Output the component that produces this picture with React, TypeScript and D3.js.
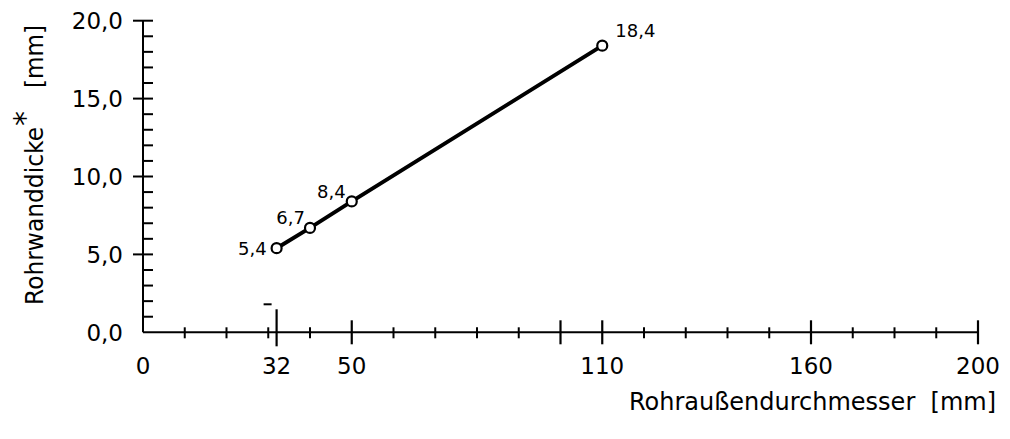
import React from "react";
import * as d3 from "d3";

const diameters = [32, 40, 50, 110];
const thickness = [5.4, 6.7, 8.4, 18.4];
const pointLabels = ["5,4", "6,7", "8,4", "18,4"];
const xTickLabels = [0, 32, 50, 110, 160, 200];
const xMinorTicks = [10, 20, 30, 40, 60, 70, 80, 90, 120, 130, 140, 150, 170, 180, 190];
const xMajorTicks = [50, 100, 110, 160, 200];
const xSpecialTick = [32];
const yMajorTicks = [0, 5, 10, 15, 20];
const yMinorTicks = [1, 2, 3, 4, 6, 7, 8, 9, 11, 12, 13, 14, 16, 17, 18, 19];

const FONT = "'DejaVu Sans', sans-serif";

export default function App() {
  const W = 1010, H = 439;
  const x = d3.scaleLinear().domain([0, 200]).range([143, 978]);
  const y = d3.scaleLinear().domain([0, 20]).range([332.3, 20.7]);
  const line = d3.line<number>().x((d, i) => x(diameters[i])).y((d) => y(d));
  const x0 = x(0), y0 = y(0);

  const labelPos = [
    { dx: -10, dy: 7, anchor: "end" },
    { dx: -5, dy: -4, anchor: "end" },
    { dx: -6, dy: -3, anchor: "end" },
    { dx: 13, dy: -9, anchor: "start" },
  ];

  return (
    <svg width={W} height={H} style={{ position: "absolute", left: 0, top: 0, background: "#fff" }} fontFamily={FONT}>
      {/* Y axis */}
      <line x1={x0} x2={x0} y1={y0} y2={y(20)} stroke="#000" strokeWidth={2} />
      {yMinorTicks.map((t) => (
        <line key={"ym" + t} x1={x0} x2={x0 + 10} y1={y(t)} y2={y(t)} stroke="#000" strokeWidth={2} />
      ))}
      {yMajorTicks.filter((t) => t > 0).map((t) => (
        <line key={"yM" + t} x1={x0 - 10} x2={x0 + 10} y1={y(t)} y2={y(t)} stroke="#000" strokeWidth={2} />
      ))}
      {yMajorTicks.map((t) => (
        <text key={"yl" + t} x={123} y={y(t)} dy="0.36em" textAnchor="end" fontSize={23} fill="#000">
          {d3.format(".1f")(t).replace(".", ",")}
        </text>
      ))}
      {/* X axis */}
      <line x1={x0} x2={x(200)} y1={y0} y2={y0} stroke="#000" strokeWidth={2} />
      {xMinorTicks.map((t) => (
        <line key={"xm" + t} x1={x(t)} x2={x(t)} y1={y0 - 5} y2={y0 + 6} stroke="#000" strokeWidth={2} />
      ))}
      {xMajorTicks.map((t) => (
        <line key={"xM" + t} x1={x(t)} x2={x(t)} y1={y0 - 12} y2={y0 + 12} stroke="#000" strokeWidth={2.2} />
      ))}
      {xSpecialTick.map((t) => (
        <g key={"xs" + t}>
          <line x1={x(t)} x2={x(t)} y1={y0 - 23} y2={y0 + 14} stroke="#000" strokeWidth={2.2} />
          <line x1={x(t) - 13} x2={x(t) - 5} y1={y0 - 28} y2={y0 - 28} stroke="#000" strokeWidth={2} />
        </g>
      ))}
      {xTickLabels.map((t) => (
        <text key={"xl" + t} x={x(t)} y={374} textAnchor="middle" fontSize={23} fill="#000">
          {t}
        </text>
      ))}
      {/* data line */}
      <path d={line(thickness) || ""} fill="none" stroke="#000" strokeWidth={4} strokeLinejoin="round" />
      {thickness.map((v, i) => (
        <circle key={"c" + i} cx={x(diameters[i])} cy={y(v)} r={5} fill="#fff" stroke="#000" strokeWidth={2.2} />
      ))}
      {thickness.map((v, i) => (
        <text key={"pl" + i} x={x(diameters[i]) + labelPos[i].dx} y={y(v) + labelPos[i].dy}
          textAnchor={labelPos[i].anchor} fontSize={18} fill="#000">
          {pointLabels[i]}
        </text>
      ))}
      {/* axis titles */}
      <g transform="translate(43,0) rotate(-90)">
        <text x={-305} y={0} fontSize={24} fill="#000" textLength={178} lengthAdjust="spacingAndGlyphs">
          Rohrwanddicke
        </text>
        <text x={-126} y={-8} fontSize={30} fill="#000">*</text>
        <text x={-88} y={0} fontSize={24} fill="#000" textLength={63} lengthAdjust="spacingAndGlyphs">
          [mm]
        </text>
      </g>
      <text x={996} y={410} textAnchor="end" fontSize={24} fill="#000" xmlSpace="preserve">
        {"Rohraußendurchmesser  [mm]"}
      </text>
    </svg>
  );
}
